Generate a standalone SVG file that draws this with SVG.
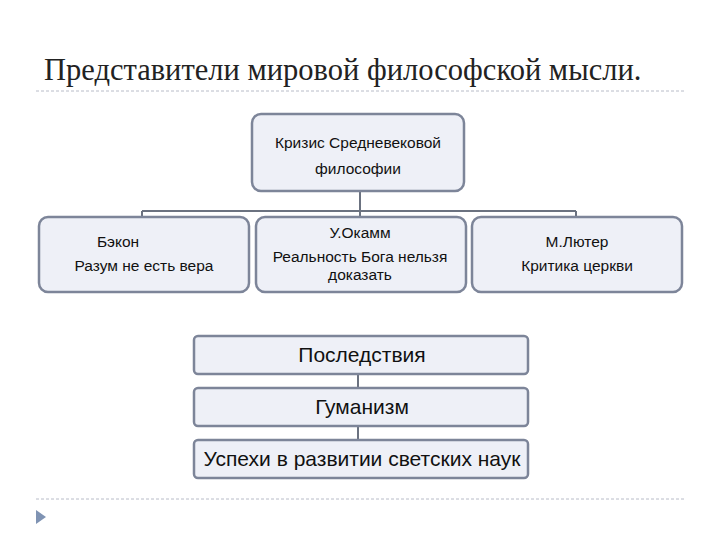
<svg xmlns="http://www.w3.org/2000/svg" width="720" height="540" viewBox="0 0 720 540">
<style>
.box{fill:#eef0f7;stroke:#7d8599;stroke-width:2.5}
.t{font-family:"Liberation Sans",Arial,sans-serif;font-size:15.5px;fill:#111;text-anchor:middle}
.b{font-family:"Liberation Sans",Arial,sans-serif;font-size:21px;fill:#111;text-anchor:middle}
.c{stroke:#6b7280;stroke-width:2;fill:none}
.d{stroke:#b8bcc8;stroke-width:1;stroke-dasharray:3,2}
</style>
<rect width="720" height="540" fill="#fff"/>
<text x="44" y="80" font-family="Liberation Serif,serif" font-size="30.5" fill="#222">Представители мировой философской мысли.</text>
<line class="d" x1="36" y1="91" x2="686" y2="91"/>
<line class="d" x1="36" y1="499" x2="686" y2="499"/>
<polygon points="36,510 36,524 46,517" fill="#7f93b3"/>
<g id="connectors">
<path class="c" d="M360 192V211M142 211H576M142 211V216M360 211V216M576 211V216"/>
<path class="c" d="M358 374V388M358 426V440"/>
</g>
<g id="n0"><rect class="box" x="252" y="114" width="212" height="77" rx="9"/><text class="t" x="358" y="148">Кризис Средневековой</text><text class="t" x="358" y="174">философии</text></g>
<g id="n1"><rect class="box" x="39" y="217" width="210" height="75" rx="9"/><text class="t" x="118" y="247">Бэкон</text><text class="t" x="144" y="271">Разум не есть вера</text></g>
<g id="n2"><rect class="box" x="256" y="217" width="210" height="75" rx="9"/><text class="t" x="360" y="238">У.Окамм</text><text class="t" x="360" y="262">Реальность Бога нельзя</text><text class="t" x="360" y="280">доказать</text></g>
<g id="n3"><rect class="box" x="472" y="217" width="210" height="75" rx="9"/><text class="t" x="577" y="247">М.Лютер</text><text class="t" x="577" y="271">Критика церкви</text></g>
<g id="n4"><rect class="box" x="194" y="336" width="334" height="38" rx="4"/><text class="b" x="362" y="362">Последствия</text></g>
<g id="n5"><rect class="box" x="194" y="388" width="334" height="38" rx="4"/><text class="b" x="362" y="414">Гуманизм</text></g>
<g id="n6"><rect class="box" x="194" y="440" width="334" height="38" rx="4"/><text class="b" x="362" y="466">Успехи в развитии светских наук</text></g>
</svg>
